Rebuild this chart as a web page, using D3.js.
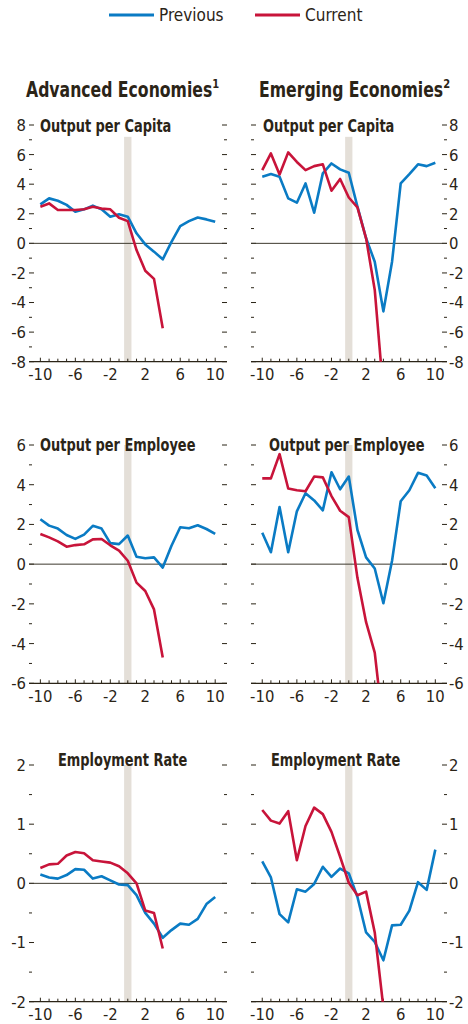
<!DOCTYPE html>
<html>
<head>
<meta charset="utf-8">
<script src="https://cdn.jsdelivr.net/npm/d3@7"></script>
<style>
  body { margin: 0; background: #fff; }
  svg text { font-family: "Liberation Sans Narrow", "DejaVu Sans Condensed", sans-serif; fill: #2b2417; }
</style>
</head>
<body>
<svg id="chart" width="468" height="1024"></svg>
<script>
// years relative to the crisis (t = 0)
var years = [-10, -9, -8, -7, -6, -5, -4, -3, -2, -1, 0, 1, 2, 3, 4, 5, 6, 7, 8, 9, 10];
var xTickLabels = [-10, -6, -2, 2, 6, 10];

// Advanced economies
var advCapitaPrev = [2.63, 3.04, 2.88, 2.6, 2.14, 2.3, 2.55, 2.3, 1.8, 1.96, 1.8, 0.68, -0.07, -0.56, -1.08, 0.1, 1.17, 1.5, 1.75, 1.62, 1.46];
var advCapitaCurr = [2.48, 2.7, 2.25, 2.25, 2.25, 2.3, 2.48, 2.35, 2.3, 1.73, 1.5, -0.45, -1.85, -2.4, -5.74];
var advEmployeePrev = [2.26, 1.94, 1.79, 1.47, 1.27, 1.49, 1.93, 1.79, 1.06, 1.01, 1.44, 0.37, 0.3, 0.34, -0.17, 0.93, 1.86, 1.81, 1.96, 1.77, 1.52];
var advEmployeeCurr = [1.52, 1.35, 1.15, 0.88, 0.96, 1.0, 1.25, 1.27, 0.95, 0.68, 0.17, -0.93, -1.35, -2.28, -4.7];
var advEmplRatePrev = [0.15, 0.1, 0.08, 0.14, 0.24, 0.23, 0.08, 0.12, 0.05, -0.02, -0.03, -0.2, -0.5, -0.68, -0.92, -0.79, -0.68, -0.7, -0.6, -0.35, -0.23];
var advEmplRateCurr = [0.26, 0.32, 0.33, 0.47, 0.53, 0.51, 0.39, 0.37, 0.35, 0.29, 0.17, 0.0, -0.46, -0.5, -1.1];

// Emerging economies
var emCapitaPrev = [4.5, 4.68, 4.5, 3.04, 2.75, 4.05, 2.07, 4.73, 5.4, 5.0, 4.77, 2.48, 0.34, -1.24, -4.6, -1.24, 4.05, 4.68, 5.34, 5.22, 5.45];
var emCapitaCurr = [4.95, 6.08, 4.66, 6.15, 5.5, 4.95, 5.22, 5.34, 3.56, 4.35, 3.1, 2.43, 0.34, -3.15, -10.1];
var emEmployeePrev = [1.58, 0.6, 2.88, 0.6, 2.66, 3.57, 3.21, 2.71, 4.63, 3.77, 4.41, 1.72, 0.34, -0.22, -1.97, 0.17, 3.17, 3.72, 4.6, 4.46, 3.82];
var emEmployeeCurr = [4.32, 4.32, 5.54, 3.81, 3.72, 3.67, 4.41, 4.37, 3.43, 2.69, 2.37, -0.69, -2.92, -4.46, -8.3];
var emEmplRatePrev = [0.37, 0.1, -0.52, -0.66, -0.1, -0.14, -0.01, 0.28, 0.11, 0.25, 0.17, -0.23, -0.83, -0.99, -1.3, -0.71, -0.7, -0.46, 0.02, -0.11, 0.57];
var emEmplRateCurr = [1.24, 1.06, 1.01, 1.22, 0.39, 0.97, 1.28, 1.17, 0.87, 0.45, 0.01, -0.2, -0.14, -0.83, -2.1];

var BLUE = "#0a7bc4", RED = "#c8143a", SHADE = "#e4dfd8", INK = "#2b2417";

var svg = d3.select("#chart");

// panel layout
var cols = [{x0: 29, x1: 227, side: "left"}, {x0: 251, x1: 447, side: "right"}];
var rows = [
    {y0: 125, y1: 361.7, max: 8, shadeTop: 7.2, titleY: 131.5},
    {y0: 445, y1: 683.3, max: 6, shadeTop: 6, titleY: 450.5},
    {y0: 765, y1: 1001.7, max: 2, shadeTop: 2, titleY: 766}
];

var panels = [
    {row: 0, col: 0, title: "Output per Capita", tx: 40, prev: advCapitaPrev, curr: advCapitaCurr, step: 1},
    {row: 0, col: 1, title: "Output per Capita", tx: 263, prev: emCapitaPrev, curr: emCapitaCurr, step: 1},
    {row: 1, col: 0, title: "Output per Employee", tx: 40, prev: advEmployeePrev, curr: advEmployeeCurr, step: 1},
    {row: 1, col: 1, title: "Output per Employee", tx: 269, prev: emEmployeePrev, curr: emEmployeeCurr, step: 1},
    {row: 2, col: 0, title: "Employment Rate", tx: 58, prev: advEmplRatePrev, curr: advEmplRateCurr, step: 0.5},
    {row: 2, col: 1, title: "Employment Rate", tx: 271, prev: emEmplRatePrev, curr: emEmplRateCurr, step: 0.5}
];

// bold text in a squeezed condensed look
function boldText(parent, x, y, size, squeeze) {
    return parent.append("text")
        .attr("transform", "translate(" + x + "," + y + ") scale(" + squeeze + ",1)")
        .attr("font-size", size).attr("font-weight", "bold");
}

// legend
var legend = [{name: "Previous", color: BLUE, x: 109}, {name: "Current", color: RED, x: 255}];
legend.forEach(function (l) {
    svg.append("line").attr("x1", l.x).attr("x2", l.x + 45).attr("y1", 15).attr("y2", 15)
        .attr("stroke", l.color).attr("stroke-width", 3);
    svg.append("text").attr("x", l.x + 50).attr("y", 21).attr("font-size", 17).text(l.name);
});

// column headers
var headers = [{text: "Advanced Economies", sup: "1", x: 26}, {text: "Emerging Economies", sup: "2", x: 259}];
headers.forEach(function (h) {
    var t = boldText(svg, h.x, 97, 20.5, 0.85);
    t.append("tspan").text(h.text);
    t.append("tspan").attr("font-size", 13).attr("dy", -9).text(h.sup);
});

panels.forEach(function (p, i) {
    var c = cols[p.col], r = rows[p.row];
    var x = d3.scaleLinear().domain([-11.3, 11.35]).range([c.x0, c.x1]);
    var y = d3.scaleLinear().domain([r.max, -r.max]).range([r.y0, r.y1]);
    var g = svg.append("g");

    // shaded crisis year
    g.append("rect")
        .attr("x", x(-0.42)).attr("width", x(0.42) - x(-0.42))
        .attr("y", y(r.shadeTop)).attr("height", y(-r.max) - y(r.shadeTop))
        .attr("fill", SHADE);

    // y ticks on both sides
    var yTicks = d3.range(-r.max, r.max + p.step / 2, p.step);
    yTicks.forEach(function (v) {
        var major = Math.abs(v / (2 * p.step) - Math.round(v / (2 * p.step))) < 1e-6;
        var len = major ? 5 : 3;
        g.append("line").attr("x1", c.x0).attr("x2", c.x0 + len).attr("y1", y(v)).attr("y2", y(v))
            .attr("stroke", INK).attr("stroke-width", 1);
        g.append("line").attr("x1", c.x1 - len).attr("x2", c.x1).attr("y1", y(v)).attr("y2", y(v))
            .attr("stroke", INK).attr("stroke-width", 1);
        if (major) {
            g.append("text")
                .attr("x", c.side == "left" ? c.x0 - 3 : c.x1 + 2)
                .attr("y", y(v)).attr("dy", "0.36em")
                .attr("text-anchor", c.side == "left" ? "end" : "start")
                .attr("font-size", 16.5)
                .text(d3.format("d")(v).replace("−", "-"));
        }
    });

    // zero line
    g.append("line").attr("x1", c.x0).attr("x2", c.x1).attr("y1", y(0)).attr("y2", y(0))
        .attr("stroke", "#3d392e").attr("stroke-width", 1);

    // x axis
    var xAxis = d3.axisBottom(x).tickValues(years).tickSize(0).tickFormat("");
    var ax = g.append("g").attr("transform", "translate(0," + y(-r.max) + ")").call(xAxis);
    ax.select(".domain").attr("stroke", INK).attr("stroke-width", 1.3)
        .attr("d", "M" + c.x0 + ",0H" + c.x1);
    years.forEach(function (yr) {
        var lab = xTickLabels.indexOf(yr) >= 0;
        ax.append("line").attr("x1", x(yr)).attr("x2", x(yr)).attr("y1", 0).attr("y2", lab ? -4 : -3)
            .attr("stroke", INK).attr("stroke-width", 1);
    });
    xTickLabels.forEach(function (yr) {
        ax.append("text").attr("x", x(yr)).attr("y", 18.5).attr("text-anchor", "middle")
            .attr("font-size", 16.5).text(String(yr));
    });

    // clip lines to plot area
    var clipId = "clip" + i;
    svg.append("clipPath").attr("id", clipId).append("rect")
        .attr("x", c.x0).attr("y", r.y0 - 10).attr("width", c.x1 - c.x0).attr("height", y(-r.max) - r.y0 + 10);

    var line = d3.line().x(function (d, j) { return x(years[j]); }).y(function (d) { return y(d); });

    g.append("path").datum(p.prev).attr("d", line).attr("fill", "none")
        .attr("stroke", BLUE).attr("stroke-width", 2.6).attr("stroke-linejoin", "round")
        .attr("clip-path", "url(#" + clipId + ")");
    g.append("path").datum(p.curr).attr("d", line).attr("fill", "none")
        .attr("stroke", RED).attr("stroke-width", 2.6).attr("stroke-linejoin", "round")
        .attr("clip-path", "url(#" + clipId + ")");

    // panel title
    boldText(g, p.tx, r.titleY, 18, 0.8).text(p.title);
});
</script>
</body>
</html>
